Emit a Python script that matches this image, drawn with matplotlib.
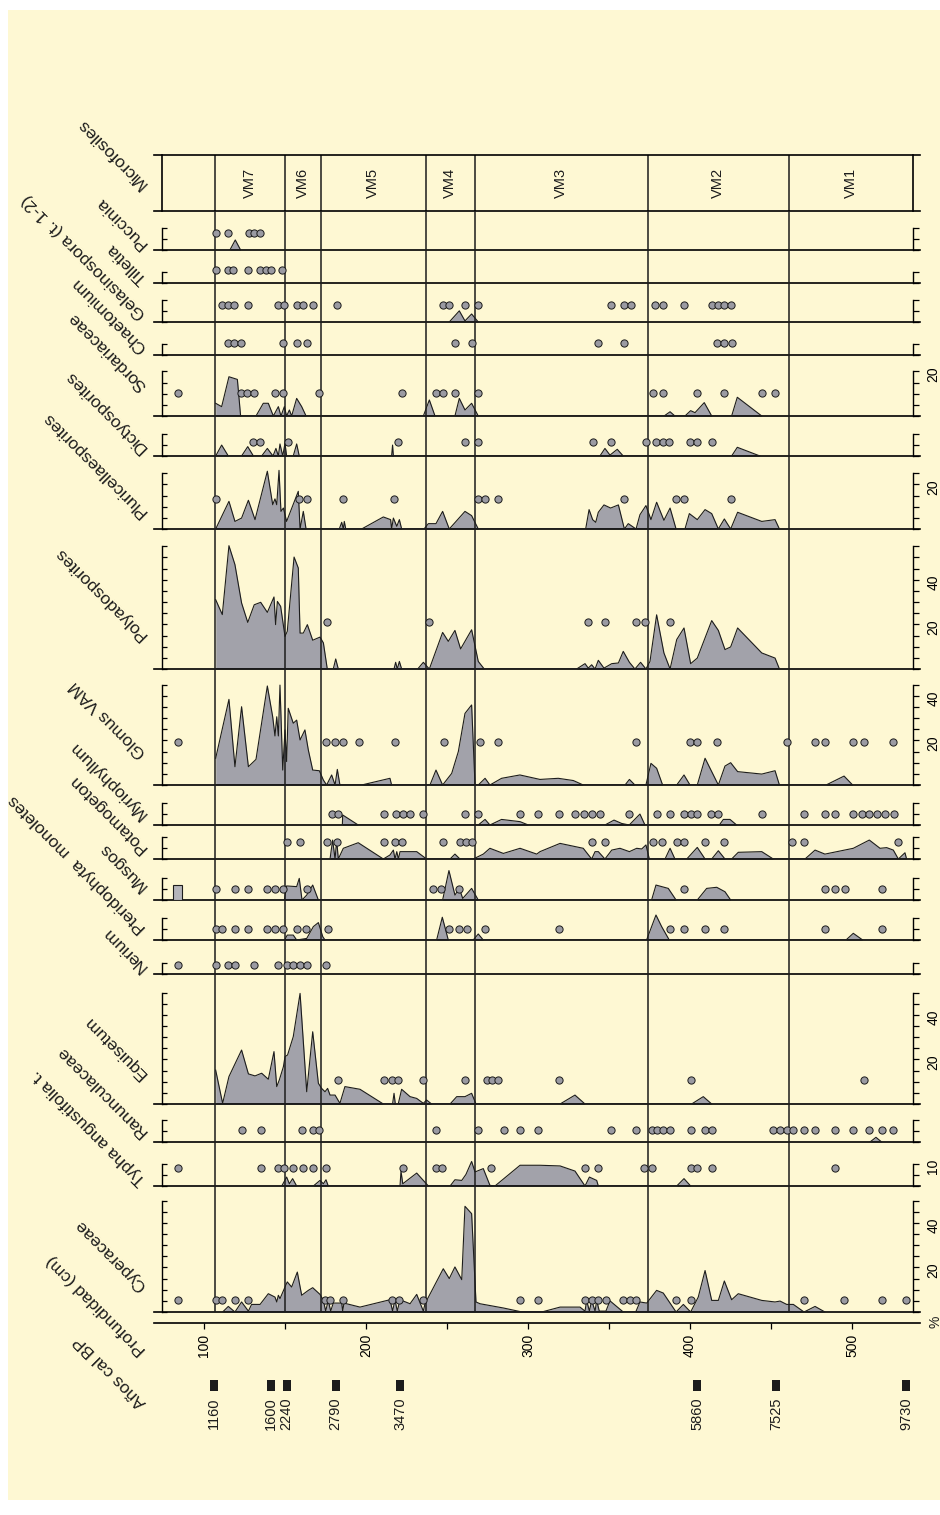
import numpy as np
import matplotlib.pyplot as plt
from matplotlib.patches import Rectangle

# ---- zones and dates ----
zone_depth = [107, 150, 172, 237, 267, 374, 461]
zone_name = ['VM7', 'VM6', 'VM5', 'VM4', 'VM3', 'VM2', 'VM1']
age_depth = [106.2, 141.4, 151.0, 181.3, 221.0, 404.3, 453.1, 533.3]
age_label = ['1160', '1600', '2240', '2790', '3470', '5860', '7525', '9730']
depth_ticks = [100, 150, 200, 250, 300, 350, 400, 450, 500]

# ---- curves (depth cm, %) and presence dots (depth cm) ----
puc_d = [116.0, 119.3, 122.6]
puc_v = [0, 4.5, 0]
puc_dots = [107.2, 115.0, 127.7, 131.0, 134.6]

til_dots = [107.2, 115.0, 118.0, 126.9, 134.6, 138.1, 141.4, 148.3]

gel_d = [251.4, 257.6, 261.1, 265.2, 269.3]
gel_v = [0, 5.0, 0.5, 3.6, 0]
gel_dots = [110.9, 114.6, 118.7, 127.0, 145.5, 149.6, 157.2, 160.9, 167.1, 182.3,
            247.3, 251.2, 261.1, 269.3, 351.2, 359.4, 363.4, 378.4, 383.1, 396.3,
            413.4, 417.1, 421.0, 425.0]

cha_dots = [114.6, 118.7, 122.8, 148.9, 157.2, 163.4, 254.9, 265.2, 343.4, 359.5,
            416.5, 421.2, 425.7]

sor_d = [107.2, 110.9, 115.4, 120.6, 122.6, 132.1, 136.6, 139.7, 142.8, 145.9,
         147.5, 149.6, 151.0, 152.7, 154.1, 157.2, 160.3, 163.0, 235.4, 239.1,
         242.6, 254.9, 257.6, 261.1, 265.2, 269.3, 384.0, 387.7, 390.7, 396.9,
         400.4, 403.1, 408.8, 413.4, 425.7, 429.2, 444.3]
sor_v = [5.7, 4.2, 17.6, 16.4, 0, 0, 5.7, 5.7, 0, 4.2,
         0, 4.2, 0, 2.7, 0, 7.9, 4.2, 0, 0, 7.2,
         0, 0, 7.9, 2.7, 5.7, 0, 0, 1.9, 0, 0,
         2.4, 1.5, 6.0, 0, 0, 8.4, 0]
sor_dots = [83.7, 122.8, 126.3, 131.0, 143.8, 148.9, 171.2, 222.4, 243.0, 247.3,
            254.9, 269.3, 376.9, 383.5, 404.4, 421.2, 444.2, 452.5]

dic_d = [107.2, 110.9, 115.0, 123.2, 127.0, 130.5, 135.6, 139.1, 142.6, 144.4,
         145.9, 146.9, 148.6, 150.0, 151.0, 155.1, 157.2, 158.8, 215.8, 216.4,
         216.9, 344.4, 347.5, 350.6, 355.1, 358.8, 425.7, 429.2, 443.2]
dic_v = [0, 4.9, 0, 0, 4.2, 0, 0, 3.4, 0, 3.4,
         0, 5.4, 0, 5.7, 0, 0, 5.4, 0, 0, 4.9,
         0, 0, 3.4, 0.4, 3.0, 0, 0, 3.9, 0]
dic_dots = [130.5, 134.6, 152.0, 219.9, 261.1, 269.3, 339.9, 351.2, 372.6, 379.0,
            383.1, 387.2, 400.0, 404.1, 413.4]

plu_d = [107.2, 115.4, 119.1, 123.2, 127.4, 131.5, 139.1, 142.4, 143.8, 144.9,
         146.3, 147.5, 149.0, 151.0, 158.2, 159.3, 161.3, 163.0, 183.5, 185.0,
         186.0, 186.6, 187.5, 197.3, 210.7, 215.2, 215.8, 216.9, 219.0, 220.6,
         222.0, 235.8, 238.5, 243.2, 247.3, 251.4, 261.1, 265.2, 269.3, 335.6,
         337.7, 339.9, 341.8, 343.4, 346.9, 351.0, 355.8, 359.5, 361.9, 366.7,
         369.1, 372.8, 375.9, 379.4, 383.9, 387.7, 391.4, 396.9, 399.6, 404.5,
         409.3, 413.4, 417.5, 421.2, 425.1, 429.4, 444.3, 452.5, 455.2]
plu_v = [0, 12.4, 3.4, 4.9, 12.9, 4.2, 25.9, 10.9, 13.5, 10.9,
         26.3, 7.9, 9.4, 3.4, 16.9, 0, 7.9, 0, 0, 3.0,
         0, 3.4, 0, 0, 5.4, 4.2, 0, 4.9, 1.2, 4.2,
         0, 0, 2.4, 2.4, 7.9, 0, 7.9, 6.0, 0, 0,
         8.7, 4.2, 3.0, 7.5, 10.8, 9.4, 10.8, 0, 2.4, 0,
         6.4, 10.5, 4.2, 12.0, 3.9, 9.4, 0, 0, 6.9, 4.2,
         8.7, 6.9, 0, 4.5, 0, 7.5, 3.4, 4.2, 0]
plu_dots = [107.2, 158.8, 163.4, 185.6, 217.3, 269.3, 273.5, 281.3, 359.5, 391.4,
            396.3, 425.1]

pol_d = [107.2, 111.3, 115.4, 119.1, 123.2, 127.0, 131.0, 135.0, 139.1, 143.2,
         144.2, 145.3, 147.3, 150.0, 151.4, 155.6, 158.2, 159.3, 161.3, 163.8,
         167.1, 171.6, 173.7, 176.1, 179.8, 181.3, 182.9, 217.3, 218.3, 219.3,
         220.6, 222.0, 231.9, 235.4, 239.1, 247.3, 250.8, 254.9, 258.4, 265.2,
         269.3, 273.0, 330.0, 335.2, 337.2, 339.3, 341.4, 343.4, 346.9, 351.7,
         355.8, 358.8, 362.6, 366.0, 369.5, 372.8, 375.3, 379.4, 383.9, 387.7,
         391.8, 396.3, 400.4, 404.5, 413.4, 417.5, 421.6, 425.1, 429.4, 444.3,
         452.5, 455.2]
pol_v = [31.1, 24.4, 55.3, 46.8, 29.6, 20.9, 28.8, 29.9, 25.4, 32.3,
         19.9, 30.3, 28.1, 14.6, 16.9, 50.2, 45.3, 16.1, 16.1, 19.9,
         12.9, 14.3, 11.7, 0, 0, 4.5, 0, 0, 3.0, 0,
         3.4, 0, 0, 3.0, 0, 16.4, 12.4, 17.3, 9.0, 17.6,
         3.4, 0, 0, 2.4, 0.4, 1.9, 0, 3.9, 0.4, 2.4,
         2.7, 7.9, 3.0, 0, 3.0, 0, 3.4, 24.3, 7.2, 0,
         13.2, 18.4, 2.4, 4.9, 21.7, 17.3, 8.7, 9.9, 18.4, 7.2,
         4.9, 0]
pol_dots = [175.7, 239.1, 337.2, 347.5, 366.5, 372.4, 387.4]

glo_d = [107.2, 115.4, 119.1, 123.2, 127.4, 132.1, 139.1, 142.4, 143.8, 144.9,
         145.9, 146.9, 148.6, 150.0, 151.0, 152.0, 155.1, 157.2, 159.3, 162.3,
         164.4, 167.1, 171.2, 173.7, 175.7, 178.8, 180.9, 182.3, 183.9, 197.3,
         214.8, 215.8, 239.5, 243.2, 247.3, 252.9, 257.0, 261.1, 265.2, 267.3,
         269.3, 273.5, 276.5, 283.7, 295.0, 307.4, 318.7, 328.0, 334.1, 359.9,
         362.6, 366.0, 372.8, 375.9, 379.4, 383.1, 391.8, 396.3, 400.0, 404.5,
         409.3, 417.5, 421.6, 425.1, 429.4, 444.3, 452.5, 455.2, 484.0, 495.1,
         500.4]
glo_v = [12.0, 38.4, 8.2, 35.1, 8.2, 11.5, 44.4, 30.6, 22.0, 30.6,
         22.0, 44.8, 6.7, 24.7, 10.5, 34.4, 27.7, 29.1, 20.2, 24.7,
         15.7, 6.7, 6.4, 2.2, 0, 4.5, 0, 7.0, 0, 0,
         3.0, 0, 0, 6.7, 0, 5.2, 15.0, 32.1, 35.9, 0,
         0, 3.0, 0, 3.0, 4.5, 2.5, 3.0, 2.0, 0, 0,
         2.5, 0, 0, 9.7, 7.5, 0, 0, 4.5, 0, 0,
         12.0, 0, 8.5, 10.0, 6.0, 4.9, 6.4, 0, 0, 4.0,
         0]
glo_dots = [83.8, 175.1, 180.9, 186.0, 195.9, 217.9, 248.1, 270.4, 281.3, 366.5,
            400.0, 404.5, 416.5, 459.7, 477.2, 483.3, 500.4, 507.4, 525.5]

myr_d = [185.4, 185.6, 195.2, 269.3, 273.5, 276.5, 283.7, 295.1, 300.2, 347.5,
         353.1, 357.8, 362.5, 369.1, 372.2, 418.1, 420.6, 424.7, 428.8]
myr_v = [0, 4.5, 0, 0, 2.5, 0, 2.5, 1.5, 0, 0,
         2.2, 0.7, 0, 4.9, 0, 0, 2.5, 2.5, 0]
myr_dots = [178.8, 182.9, 211.3, 218.5, 223.0, 227.2, 235.0, 261.1, 269.3, 295.1,
            306.4, 319.3, 329.0, 334.8, 339.7, 344.4, 362.5, 379.4, 387.7, 396.3,
            400.4, 404.5, 412.8, 417.5, 444.3, 470.4, 483.3, 489.5, 500.4, 506.0,
            510.7, 515.2, 520.4, 525.9]

pot_d = [177.8, 179.4, 180.9, 181.9, 182.9, 186.0, 195.2, 210.7, 214.8, 216.9,
         217.9, 219.0, 220.0, 221.0, 223.0, 231.3, 237.4, 251.9, 254.9, 258.0,
         266.2, 272.4, 276.5, 284.8, 295.1, 305.4, 307.4, 319.8, 334.1, 339.3,
         341.4, 343.4, 347.5, 351.7, 356.8, 362.6, 367.1, 370.2, 372.8, 374.9,
         384.6, 387.7, 390.7, 398.0, 404.5, 409.3, 413.4, 417.5, 421.6, 425.7,
         429.8, 444.3, 451.4, 471.0, 477.2, 483.3, 500.8, 510.7, 517.3, 521.4,
         525.5, 528.6, 532.7, 533.7]
pot_v = [0, 8.5, 0, 8.5, 0, 4.8, 7.3, 0, 1.8, 4.0,
         0, 3.3, 0, 3.3, 3.3, 3.3, 0, 0, 2.2, 0,
         0, 2.2, 4.8, 2.5, 4.8, 2.2, 3.3, 7.0, 4.8, 0,
         3.3, 3.3, 0, 4.0, 4.8, 3.3, 4.8, 4.5, 6.3, 0,
         0, 4.8, 0, 0, 5.2, 0, 0, 3.7, 0, 0,
         3.0, 3.3, 0, 0, 4.0, 2.2, 4.8, 8.5, 4.8, 5.1,
         4.0, 0, 2.8, 0]
pot_dots = [151.0, 159.3, 176.1, 182.3, 211.3, 217.9, 222.4, 247.3, 258.0, 261.7,
            265.2, 339.3, 347.5, 377.0, 382.5, 392.2, 396.3, 409.3, 421.2, 463.2,
            470.4, 528.6]

mus_top_depth = 83.4
mus_top_value = 6.7
mus_d = [149.6, 151.0, 157.2, 158.8, 160.5, 163.4, 167.1, 170.6, 247.3, 251.2,
         254.9, 257.6, 259.7, 265.2, 269.3, 376.3, 379.0, 386.6, 391.4, 404.5,
         410.3, 416.5, 421.6, 425.1]
mus_v = [0, 6.3, 6.0, 9.7, 0, 2.2, 6.7, 0, 0, 13.2,
         2.2, 5.2, 0.7, 5.2, 0, 0, 6.7, 5.2, 0, 0,
         5.2, 5.7, 3.7, 0]
mus_dots = [107.2, 119.1, 127.0, 139.1, 143.8, 149.0, 163.4, 241.2, 246.1, 257.4,
            396.3, 483.3, 489.5, 495.7, 518.3]

pte_d = [150.0, 151.4, 155.1, 157.2, 163.4, 167.5, 170.6, 173.3, 174.7, 243.6,
         247.1, 250.8, 266.2, 269.3, 272.4, 373.2, 379.0, 382.5, 387.2, 496.3,
         500.8, 506.6]
pte_v = [0.3, 2.2, 2.2, 0, 0.7, 6.0, 7.8, 1.5, 0, 0,
         10.2, 0, 0, 2.7, 0, 0, 11.2, 6.0, 0, 0,
         3.0, 0]
pte_dots = [107.2, 110.9, 119.1, 127.0, 139.1, 143.8, 149.0, 157.2, 163.0, 176.7,
            251.2, 257.4, 262.1, 273.5, 319.3, 387.7, 396.3, 409.3, 421.2, 483.3,
            518.3]

ner_dots = [83.8, 107.2, 115.0, 119.1, 131.0, 145.9, 151.0, 155.1, 159.3, 163.4, 175.3]

equ_d = [107.2, 111.5, 115.4, 123.2, 127.4, 131.5, 135.6, 139.7, 143.2, 144.9,
         146.5, 149.0, 150.0, 151.6, 155.1, 159.3, 163.4, 167.1, 170.6, 172.6,
         174.7, 176.3, 177.8, 180.9, 183.9, 187.0, 196.3, 210.7, 216.4, 217.3,
         218.1, 219.9, 222.0, 227.2, 231.3, 235.4, 237.4, 240.5, 251.9, 256.0,
         261.1, 265.2, 267.9, 319.8, 329.0, 335.2, 401.0, 408.2, 413.4]
equ_v = [15.2, 0.3, 12.3, 24.2, 13.5, 12.6, 13.8, 11.1, 23.5, 7.8,
         10.8, 16.7, 21.2, 22.0, 30.2, 49.6, 5.5, 32.4, 9.3, 7.0,
         5.5, 7.0, 4.0, 4.0, 0.3, 7.8, 6.6, 0, 0, 4.8,
         0, 0, 6.6, 3.3, 2.5, 0.3, 1.8, 0, 0, 3.3,
         3.3, 4.8, 0, 0, 4.0, 0, 0, 3.3, 0]
equ_dots = [182.9, 211.3, 215.8, 219.9, 235.0, 261.1, 274.5, 277.6, 281.3, 319.3,
            400.4, 507.4]

ran_d = [511.1, 514.8, 518.3]
ran_v = [0, 2.1, 0]
ran_dots = [123.2, 135.2, 160.3, 167.1, 171.0, 243.0, 269.3, 285.4, 295.1, 306.4,
            351.2, 366.5, 376.3, 379.8, 383.5, 387.7, 400.4, 409.3, 413.4, 451.4,
            455.6, 459.7, 463.8, 470.4, 477.2, 489.5, 500.4, 510.7, 518.3, 525.5]

typ_d = [148.0, 151.0, 152.7, 154.7, 157.2, 167.5, 171.6, 173.7, 175.3, 176.7,
         221.0, 221.6, 222.7, 231.3, 238.5, 251.9, 254.9, 259.1, 261.7, 265.2,
         267.3, 272.4, 276.5, 279.6, 295.1, 307.4, 319.8, 329.0, 335.2, 337.9,
         342.4, 343.4, 391.8, 396.3, 400.4]
typ_v = [0, 4.0, 1.0, 3.3, 0, 0, 2.5, 1.0, 2.8, 0,
         0, 6.7, 1.0, 5.8, 0, 0, 2.8, 2.5, 5.2, 11.0,
         6.3, 7.8, 0.3, 0, 9.3, 9.3, 9.0, 6.7, 0, 4.0,
         2.5, 0, 0, 3.3, 0]
typ_dots = [83.8, 135.2, 145.5, 149.6, 155.1, 161.3, 167.1, 175.1, 223.0, 243.0,
            247.1, 277.2, 335.2, 343.4, 371.8, 376.3, 400.4, 404.5, 413.4, 489.5]

cyp_d = [111.5, 115.0, 119.1, 123.2, 127.4, 129.4, 134.6, 139.7, 143.8, 144.9,
         145.9, 146.9, 150.0, 151.4, 154.1, 157.6, 160.3, 164.4, 167.1, 171.6,
         173.7, 175.1, 176.7, 178.2, 179.8, 185.0, 185.6, 186.4, 196.3, 214.8,
         216.4, 217.9, 219.3, 221.0, 227.2, 231.3, 234.4, 235.4, 236.4, 247.7,
         251.4, 254.9, 259.1, 261.1, 265.2, 267.9, 270.4, 284.8, 295.1, 309.5,
         319.8, 332.1, 335.2, 336.2, 337.9, 339.3, 341.4, 342.4, 344.0, 348.1,
         350.6, 358.8, 366.5, 369.1, 373.3, 379.4, 383.5, 391.4, 395.9, 400.4,
         405.1, 409.3, 413.4, 417.5, 421.2, 425.7, 429.8, 444.3, 452.5, 455.6,
         459.7, 463.8, 470.4, 477.2, 483.3]
cyp_v = [0, 2.5, 0, 4.5, 0.4, 3.4, 3.4, 8.2, 6.7, 4.5,
         7.5, 6.0, 11.2, 13.5, 11.2, 17.9, 7.5, 9.7, 10.9, 7.9,
         5.2, 0.4, 5.2, 0.4, 4.0, 4.0, 0.4, 4.0, 2.2, 5.5,
         0.4, 5.5, 0.4, 5.5, 3.7, 7.9, 2.2, 0.4, 3.7, 19.4,
         15.0, 20.2, 14.5, 47.4, 44.1, 4.5, 3.7, 1.8, 0.2, 0.2,
         2.2, 2.2, 0.4, 5.2, 0.4, 5.2, 0.4, 5.2, 0.4, 0.4,
         5.0, 0, 0, 4.5, 4.0, 9.7, 8.5, 0, 3.4, 0,
         6.7, 18.6, 5.2, 5.2, 13.9, 5.5, 8.2, 5.2, 4.5, 4.9,
         3.4, 3.4, 0, 2.5, 0]
cyp_dots = [83.8, 107.2, 110.9, 119.1, 127.0, 174.7, 177.8, 185.6, 215.8, 220.6,
            235.0, 295.1, 306.4, 335.2, 339.3, 343.4, 348.1, 358.8, 363.0, 366.5,
            391.4, 400.4, 470.4, 495.1, 518.3, 533.3]

# ---- page layout (pixels) ----
W, H = 940, 1515
X_LEFT, X_RIGHT = 154, 920
PX_PER_CM = 1.62
PX_PER_PCT = 2.23
BG = '#FEF8D3'
FILL = '#A2A2AA'
DOT = '#9A9AA2'
INK = '#1C1C1C'


def depth_at(px):
    return 100 + (px - 204) / PX_PER_CM


SPINE_L = depth_at(162)
SPINE_R = depth_at(913)

# name, top px, bottom px, depths, values, dots, dot level %, scale max %, labelled ticks, label y px
strips = [
    ('Puccinia', 211, 250, puc_d, puc_v, puc_dots, 7.8, 10, [], 246),
    ('Tilletia', 250, 283, [], [], til_dots, 5.8, 5, [], 281),
    ('Gelasinospora (t. 1-2)', 283, 322, gel_d, gel_v, gel_dots, 7.6, 10, [], 316),
    ('Chaetomium', 322, 355, [], [], cha_dots, 5.5, 5, [], 350),
    ('Sordariaceae', 355, 416, sor_d, sor_v, sor_dots, 10.2, 20, [20], 388),
    ('Dictyosporites', 416, 456, dic_d, dic_v, dic_dots, 6.1, 10, [], 450),
    ('Pluricellaesporites', 456, 529, plu_d, plu_v, plu_dots, 13.5, 25, [20], 514),
    ('Polyadosporites', 529, 669, pol_d, pol_v, pol_dots, 21.1, 55, [20, 40], 637),
    ('Glomus VAM', 669, 785, glo_d, glo_v, glo_dots, 19.4, 45, [20, 40], 755),
    ('Myriophyllum', 785, 825, myr_d, myr_v, myr_dots, 4.8, 10, [], 816),
    ('Potamogeton', 825, 859, pot_d, pot_v, pot_dots, 7.5, 10, [], 850),
    ('Musgos', 859, 900, mus_d, mus_v, mus_dots, 4.9, 10, [], 888),
    ('Pteridophyta  monoletes', 900, 940, pte_d, pte_v, pte_dots, 4.9, 10, [], 930),
    ('Nerium', 940, 974, [], [], ner_dots, 4.2, 5, [], 969),
    ('Equisetum', 974, 1104, equ_d, equ_v, equ_dots, 10.8, 50, [20, 40], 1076),
    ('Ranunculaceae', 1104, 1142, ran_d, ran_v, ran_dots, 5.5, 10, [], 1134),
    ('Typha angustifolia t.', 1142, 1186, typ_d, typ_v, typ_dots, 8.2, 10, [10], 1182),
    ('Cyperaceae', 1186, 1312, cyp_d, cyp_v, cyp_dots, 5.5, 50, [20, 40], 1288),
]

plt.rcParams['font.family'] = ['Liberation Sans', 'DejaVu Sans']
plt.rcParams['text.color'] = INK

fig = plt.figure(figsize=(W / 100, H / 100), dpi=100)
fig.patch.set_facecolor('white')
fig.add_artist(Rectangle((8 / W, 1 - 1500 / H), 932 / W, 1490 / H,
                         transform=fig.transFigure, facecolor=BG,
                         edgecolor='none', zorder=-10))


def strip_axes(top, bottom):
    ax = fig.add_axes([X_LEFT / W, 1 - bottom / H, (X_RIGHT - X_LEFT) / W, (bottom - top) / H])
    ax.set_xlim(depth_at(X_LEFT), depth_at(X_RIGHT))
    ax.patch.set_visible(False)
    ax.set_xticks([])
    return ax


def taxon_label(text, y):
    fig.text(144 / W, 1 - y / H, text, rotation=135, rotation_mode='anchor',
             ha='left', va='center', fontsize=12.5)


# zone box
box = strip_axes(155, 211)
box.set_ylim(0, 1)
box.set_yticks([])
for side in ['top', 'bottom']:
    box.spines[side].set_linewidth(1.2)
box.spines['left'].set_position(('data', SPINE_L))
box.spines['right'].set_position(('data', SPINE_R))
for side in ['left', 'right']:
    box.spines[side].set_linewidth(1.2)
edges = zone_depth + [SPINE_R]
for i, name in enumerate(zone_name):
    box.axvline(zone_depth[i], color=INK, lw=1.1)
    box.text((edges[i] + edges[i + 1]) / 2, 0.5, name, rotation=90,
             ha='center', va='center', fontsize=10.5)
taxon_label('Microfosiles', 186)

# taxon strips
for name, top, bottom, dd, vv, dots, lvl, smax, labelled, ly in strips:
    ax = strip_axes(top, bottom)
    ymax = (bottom - top) / PX_PER_PCT
    ax.set_ylim(0, ymax)
    if dd:
        ax.fill_between(dd, vv, 0, color=FILL, lw=0, zorder=2)
        ax.plot(dd, vv, color=INK, lw=0.8, zorder=3)
    if name == 'Musgos':
        ax.bar(mus_top_depth, mus_top_value, width=5.5, color='#B4B4BA',
               edgecolor=INK, lw=0.8, zorder=3)
    for z in zone_depth:
        ax.axvline(z, color=INK, lw=1.1, zorder=4)
    ax.plot(dots, [lvl] * len(dots), 'o', ms=5.2, mfc=DOT, mec=INK, mew=0.7, zorder=5)

    ticks = np.arange(0, smax + 1, 5)
    ax.spines['top'].set_visible(False)
    ax.spines['right'].set_visible(False)
    ax.spines['bottom'].set_linewidth(1.2)
    ax.spines['left'].set_position(('data', SPINE_L))
    ax.spines['left'].set_bounds(0, smax)
    ax.spines['left'].set_linewidth(1.0)
    ax.set_yticks(ticks)
    ax.tick_params(axis='y', direction='in', length=3.8, width=0.9,
                   labelleft=False, right=False)

    ax2 = ax.twinx()
    ax2.set_ylim(0, ymax)
    for side in ['top', 'bottom', 'left']:
        ax2.spines[side].set_visible(False)
    ax2.spines['right'].set_position(('data', SPINE_R))
    ax2.spines['right'].set_bounds(0, smax)
    ax2.spines['right'].set_linewidth(1.0)
    ax2.set_yticks(ticks)
    ax2.set_yticklabels([str(t) if t in labelled else '' for t in ticks])
    ax2.tick_params(axis='y', direction='out', length=4.5, width=0.9,
                    labelsize=10, labelrotation=90, pad=5)
    ax2.set_xticks([])

    taxon_label(name, ly)

# depth axis
dax = strip_axes(1290, 1323)
dax.set_ylim(0, 1)
dax.set_yticks([])
for side in ['top', 'left', 'right']:
    dax.spines[side].set_visible(False)
dax.spines['bottom'].set_linewidth(1.2)
dax.set_xticks(depth_ticks)
dax.set_xticklabels([str(t) if t % 100 == 0 else '' for t in depth_ticks],
                    rotation=90, fontsize=10)
dax.tick_params(axis='x', direction='out', length=4.5, width=0.9, pad=3)
fig.text(935 / W, 1 - 1322 / H, '%', rotation=90, ha='center', va='center', fontsize=10)
taxon_label('Profundidad (cm)', 1352)

# radiocarbon dates
aax = strip_axes(1380, 1391)
aax.set_ylim(0, 1)
aax.axis('off')
aax.bar(age_depth, 1, width=5.0, color=INK, align='center')
for d, lab in zip(age_depth, age_label):
    aax.text(d, -0.55, lab, rotation=90, ha='center', va='top', fontsize=10.5)
taxon_label('Años cal BP', 1405)

fig.savefig('out.png', dpi=100, facecolor=fig.get_facecolor())
